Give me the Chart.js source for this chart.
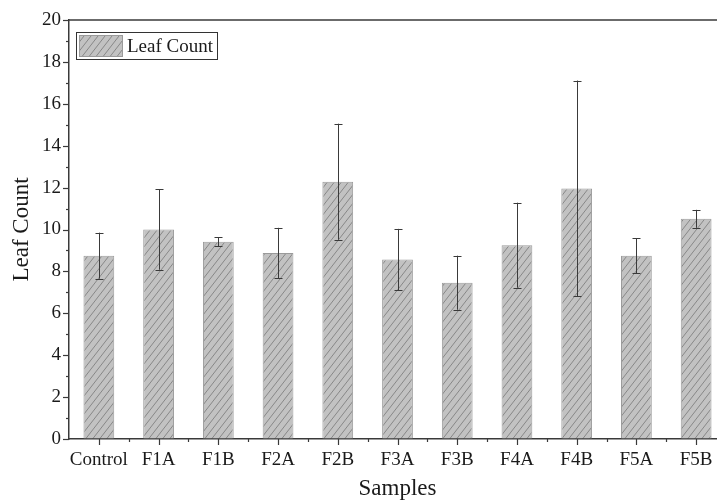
<!DOCTYPE html>
<html>
<head>
<meta charset="utf-8">
<script src="https://cdn.jsdelivr.net/npm/chart.js@4/dist/chart.umd.min.js"></script>
<style>
html,body{margin:0;padding:0;overflow:hidden;background:#fff;}
#wrap{width:717px;height:500px;overflow:hidden;position:relative;}
canvas{display:block;}
</style>
</head>
<body>
<div id="wrap"><canvas id="c" width="731" height="503" style="width:731px;height:503px"></canvas></div>
<script>
const categories = ['Control','F1A','F1B','F2A','F2B','F3A','F3B','F4A','F4B','F5A','F5B'];
const leafMeans = [8.75, 10.0, 9.42, 8.88, 12.28, 8.57, 7.46, 9.25, 11.96, 8.75, 10.51];
const leafErrors = [1.1, 1.92, 0.21, 1.2, 2.77, 1.46, 1.29, 2.03, 5.15, 0.83, 0.43];
const seriesLabel = 'Leaf Count';
const yTitle = 'Leaf Count';
const xTitle = 'Samples';

const FONT = "'Liberation Serif','Times New Roman',serif";
const AXIS = '#3a3a3a';
const TEXT = '#1a1a1a';

function makeHatch(ctx){
  const w=7,h=9;
  const c=document.createElement('canvas'); c.width=w; c.height=h;
  const g=c.getContext('2d');
  g.fillStyle='#c2c2c2'; g.fillRect(0,0,w,h);
  g.strokeStyle='#808080'; g.lineWidth=0.9;
  g.beginPath();
  g.moveTo(0,h); g.lineTo(w,0);
  g.moveTo(-w,h); g.lineTo(0,0);
  g.moveTo(w,h); g.lineTo(2*w,0);
  g.stroke();
  return ctx.createPattern(c,'repeat');
}

const canvas=document.getElementById('c');
const ctx=canvas.getContext('2d');
const hatch=makeHatch(ctx);

const decor={
  id:'decor',
  afterDatasetsDraw(chart){
    const c=chart.ctx, ys=chart.scales.y, meta=chart.getDatasetMeta(0);
    c.save();
    c.strokeStyle='#3a3a3a'; c.lineWidth=1;
    meta.data.forEach((bar,i)=>{
      const x=Math.round(bar.x)+0.5;
      const yt=ys.getPixelForValue(leafMeans[i]+leafErrors[i]);
      const yb=ys.getPixelForValue(leafMeans[i]-leafErrors[i]);
      c.beginPath();
      c.moveTo(x,yt); c.lineTo(x,yb);
      c.moveTo(x-4,Math.round(yt)+0.5); c.lineTo(x+4,Math.round(yt)+0.5);
      c.moveTo(x-4,Math.round(yb)+0.5); c.lineTo(x+4,Math.round(yb)+0.5);
      c.stroke();
    });
    c.restore();
  },
  afterDraw(chart){
    const c=chart.ctx, a=chart.chartArea, ys=chart.scales.y, xs=chart.scales.x;
    c.save();
    c.strokeStyle=AXIS; c.lineWidth=1.5;
    c.beginPath(); c.moveTo(a.left,a.top); c.lineTo(a.right+2,a.top); c.stroke();
    c.lineWidth=1.2;
    for(let v=ys.min; v<=ys.max; v+=1){
      const y=Math.round(ys.getPixelForValue(v))+0.5;
      const len=(v%2===0)?6:3;
      c.beginPath(); c.moveTo(a.left-len,y); c.lineTo(a.left,y); c.stroke();
    }
    const n=categories.length;
    for(let i=0;i<n;i++){
      const x=Math.round(xs.getPixelForValue(i))+0.5;
      c.beginPath(); c.moveTo(x,a.bottom); c.lineTo(x,a.bottom+6); c.stroke();
      const xm=Math.round(xs.getPixelForValue(i+0.5))+0.5;
      c.beginPath(); c.moveTo(xm,a.bottom); c.lineTo(xm,a.bottom+3); c.stroke();
    }
    const lx=a.left+7, ly=a.top+12;
    c.lineWidth=1; c.strokeStyle='#333';
    c.strokeRect(lx+0.5, ly+0.5, 141, 27);
    c.fillStyle=hatch;
    c.fillRect(lx+3, ly+3, 44, 22);
    c.strokeStyle='#9a9a9a';
    c.strokeRect(lx+3.5, ly+3.5, 43, 21);
    c.fillStyle=TEXT; c.font="19px "+FONT; c.textBaseline='middle'; c.textAlign='left';
    c.fillText(chart.data.datasets[0].label, lx+51, ly+15);
    c.restore();
  }
};

new Chart(canvas,{
  type:'bar',
  data:{
    labels:categories,
    datasets:[{
      label:seriesLabel,
      data:leafMeans,
      backgroundColor:hatch,
      borderColor:'#9a9a9a',
      borderWidth:1,
      barPercentage:0.515,
      categoryPercentage:1.0
    }]
  },
  options:{
    responsive:false,
    animation:false,
    events:[],
    layout:{padding:{top:20,right:5,left:0,bottom:0}},
    plugins:{legend:{display:false},tooltip:{enabled:false}},
    scales:{
      x:{
        grid:{display:true,drawOnChartArea:false,drawTicks:false,color:'rgba(0,0,0,0)'},
        border:{display:true,color:AXIS,width:1.5},
        ticks:{color:TEXT,font:{family:FONT,size:19},padding:10,maxRotation:0,autoSkip:false},
        title:{display:true,text:xTitle,color:TEXT,font:{family:FONT,size:23},padding:{top:0,bottom:0}},
        afterFit(s){s.height=64;}
      },
      y:{
        min:0,max:20,
        grid:{display:true,drawOnChartArea:false,drawTicks:false,color:'rgba(0,0,0,0)'},
        border:{display:true,color:AXIS,width:1.5},
        ticks:{stepSize:2,color:TEXT,font:{family:FONT,size:19},padding:8},
        title:{display:true,text:yTitle,color:TEXT,font:{family:FONT,size:23},padding:{top:8,bottom:0}},
        afterFit(s){s.width=69;}
      }
    }
  },
  plugins:[decor]
});
</script>
</body>
</html>
